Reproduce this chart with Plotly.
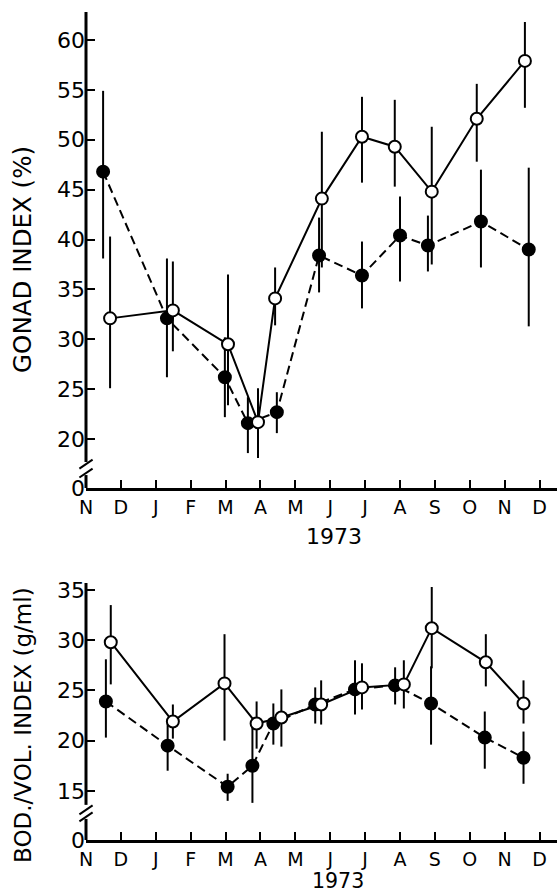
import plotly.graph_objects as go

# ---------------- data (month index: 0 = Nov 1972 ... 13 = Dec 1973) ----------------
month_labels = ["N", "D", "J", "F", "M", "A", "M", "J", "J", "A", "S", "O", "N", "D"]
month_ticks = list(range(14))

# Gonad index (%) - open circles, solid line
gonad_open_x = [0.69, 2.49, 4.07, 4.93, 5.42, 6.76, 7.91, 8.85, 9.91, 11.20, 12.58]
gonad_open_y = [32.1, 32.9, 29.5, 21.7, 34.1, 44.1, 50.3, 49.3, 44.8, 52.1, 57.9]
gonad_open_hi = [40.3, 37.8, 36.5, 25.1, 37.2, 50.8, 54.3, 54.0, 51.3, 55.6, 61.8]
gonad_open_lo = [25.1, 28.8, 23.4, 18.1, 31.4, 37.2, 45.7, 45.3, 37.5, 47.8, 53.2]

# Gonad index (%) - filled circles, dashed line
gonad_fill_x = [0.49, 2.32, 3.98, 4.64, 5.47, 6.68, 7.91, 9.00, 9.80, 11.32, 12.69]
gonad_fill_y = [46.8, 32.1, 26.2, 21.6, 22.7, 38.4, 36.4, 40.4, 39.4, 41.8, 39.0]
gonad_fill_hi = [54.9, 38.1, 30.2, 24.2, 24.7, 42.2, 39.8, 44.3, 42.4, 47.0, 47.2]
gonad_fill_lo = [38.1, 26.2, 22.2, 18.6, 20.6, 34.7, 33.1, 35.8, 36.8, 37.2, 31.3]

# Body/volume index (g/ml) - open circles, solid line
bod_open_x = [0.71, 2.49, 3.97, 4.89, 5.60, 6.74, 7.91, 9.11, 9.91, 11.46, 12.54]
bod_open_y = [29.8, 21.9, 25.7, 21.7, 22.3, 23.6, 25.3, 25.6, 31.2, 27.8, 23.7]
bod_open_hi = [33.5, 23.6, 30.6, 23.9, 25.1, 26.0, 27.7, 28.0, 35.3, 30.6, 26.0]
bod_open_lo = [25.6, 20.2, 20.0, 19.2, 19.4, 21.6, 23.1, 23.2, 27.2, 25.4, 21.7]

# Body/volume index (g/ml) - filled circles, dashed line
bod_fill_x = [0.57, 2.34, 4.06, 4.77, 5.37, 6.57, 7.71, 8.86, 9.89, 11.43, 12.54]
bod_fill_y = [23.9, 19.5, 15.4, 17.5, 21.7, 23.6, 25.1, 25.5, 23.7, 20.3, 18.3]
bod_fill_hi = [28.1, 21.7, 16.7, 22.0, 23.7, 25.3, 28.0, 27.3, 27.4, 22.9, 20.9]
bod_fill_lo = [20.3, 17.0, 14.0, 13.8, 19.6, 21.7, 22.6, 23.6, 19.6, 17.2, 15.7]

gonad_ticks = [15.1, 20, 25, 30, 35, 40, 45, 50, 55, 60]
gonad_ticktext = ["0", "20", "25", "30", "35", "40", "45", "50", "55", "60"]
bod_ticks = [10.1, 15, 20, 25, 30, 35]
bod_ticktext = ["0", "15", "20", "25", "30", "35"]

# ---------------- figure ----------------
FONT = "DejaVu Sans"
fig = go.Figure()


def add_series(x, y, hi, lo, filled, xa, ya):
    fig.add_trace(go.Scatter(
        x=x, y=y, xaxis=xa, yaxis=ya, mode="lines+markers",
        line=dict(color="black", width=2, dash="9px,5px" if filled else "solid"),
        marker=dict(size=12, color="black" if filled else "white",
                    line=dict(color="black", width=2), symbol="circle"),
        error_y=dict(type="data", symmetric=False,
                     array=[h - v for h, v in zip(hi, y)],
                     arrayminus=[v - l for v, l in zip(y, lo)],
                     color="black", thickness=2, width=0),
        showlegend=False, hoverinfo="skip"))


add_series(gonad_fill_x, gonad_fill_y, gonad_fill_hi, gonad_fill_lo, True, "x", "y")
add_series(gonad_open_x, gonad_open_y, gonad_open_hi, gonad_open_lo, False, "x", "y")
add_series(bod_fill_x, bod_fill_y, bod_fill_hi, bod_fill_lo, True, "x2", "y2")
add_series(bod_open_x, bod_open_y, bod_open_hi, bod_open_lo, False, "x2", "y2")

xcommon = dict(range=[0, 13.5], tickvals=month_ticks, ticktext=month_labels,
               showline=True, linecolor="black", linewidth=3, ticks="inside",
               ticklen=8, tickwidth=2, tickcolor="black", showgrid=False,
               zeroline=False, tickfont=dict(family=FONT, size=19, color="black"),
               ticklabelstandoff=0, domain=[0, 1])
ycommon = dict(showline=False, ticks="inside", ticklen=9, tickwidth=2,
               tickcolor="black", showgrid=False, zeroline=False,
               tickfont=dict(family=FONT, size=22, color="black"),
               ticklabelstandoff=0)

fig.update_layout(
    width=557, height=894,
    margin=dict(l=86, r=0, t=12, b=54),
    paper_bgcolor="white", plot_bgcolor="white",
    xaxis=dict(**xcommon, anchor="y"),
    yaxis=dict(**ycommon, range=[15.1, 62.8], domain=[0.4251, 1.0],
               tickvals=gonad_ticks, ticktext=gonad_ticktext, anchor="x"),
    xaxis2=dict(**xcommon, anchor="y2"),
    yaxis2=dict(**ycommon, range=[10.1, 35.7], domain=[0.0, 0.3104],
                tickvals=bod_ticks, ticktext=bod_ticktext, anchor="x2"),
)

# broken y-axis lines
shapes = []
def axis_with_break(xref, yref, top, brk_hi, brk_lo, bottom, s1, s2, dy):
    ln = dict(color="black", width=3)
    shapes.append(dict(type="line", xref=xref, yref=yref, x0=0, x1=0, y0=top, y1=brk_hi, line=ln))
    shapes.append(dict(type="line", xref=xref, yref=yref, x0=0, x1=0, y0=brk_lo, y1=bottom, line=ln))
    for s in (s1, s2):
        shapes.append(dict(type="line", xref=xref, yref=yref, x0=-0.014, x1=0.014,
                           y0=s - dy, y1=s + dy, line=dict(color="black", width=2)))

axis_with_break("x domain", "y", 62.8, 17.7, 16.4, 15.1, 17.5, 16.6, 0.45)
axis_with_break("x2 domain", "y2", 35.7, 13.6, 12.2, 10.1, 13.1, 12.4, 0.45)
fig.update_layout(shapes=shapes)

fig.add_annotation(text="GONAD INDEX (%)", xref="paper", yref="paper", x=-0.134, y=0.7017,
                   textangle=-90, showarrow=False, font=dict(family=FONT, size=24.5, color="black"),
                   xanchor="center", yanchor="middle")
fig.add_annotation(text="BOD./VOL. INDEX (g/ml)", xref="paper", yref="paper", x=-0.134, y=0.1389,
                   textangle=-90, showarrow=False, font=dict(family=FONT, size=23, color="black"),
                   xanchor="center", yanchor="middle")
fig.add_annotation(text="1973", xref="paper", yref="paper", x=0.5265, y=0.366,
                   showarrow=False, font=dict(family=FONT, size=22, color="black"),
                   xanchor="center", yanchor="middle")
fig.add_annotation(text="1973", xref="paper", yref="paper", x=0.535, y=-0.0652,
                   showarrow=False, font=dict(family=FONT, size=20.5, color="black"),
                   xanchor="center", yanchor="bottom", borderpad=0)

fig.write_html("out.html", config={"displayModeBar": False},
               post_script="document.body.style.margin='0';")
